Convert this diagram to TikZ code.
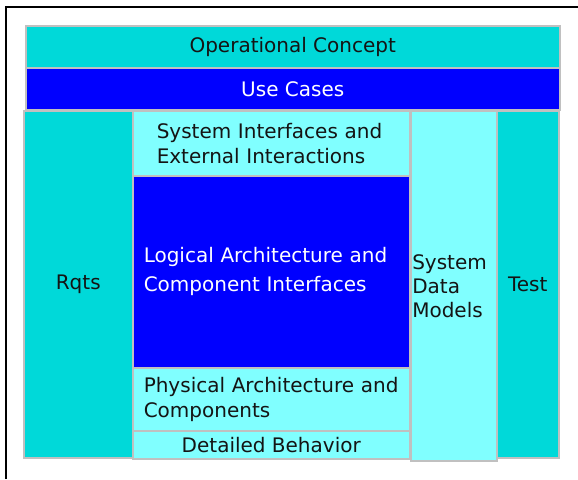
\documentclass[tikz,border=0pt]{standalone}
\usepackage{fontspec}
\setmainfont{DejaVu Sans}
\definecolor{cyanD}{RGB}{0,217,217}
\definecolor{blueD}{RGB}{0,0,255}
\definecolor{cyanL}{RGB}{128,255,255}
\definecolor{borderG}{RGB}{192,192,192}
\definecolor{textD}{RGB}{20,20,20}
\begin{document}
\begin{tikzpicture}[x=1pt,y=-1pt,
  cell/.style={draw=borderG, line width=1.5pt, anchor=north west, inner sep=0pt,
    font=\fontsize{20}{25}\selectfont, text=textD},
  dark/.style={fill=cyanD},
  bluebox/.style={fill=blueD, text=white},
  light/.style={fill=cyanL}]
\useasboundingbox (0,0) rectangle (578,479);
\draw[line width=2pt, black] (6,479) -- (6,7) -- (578,7);
\node[cell, dark, minimum width=534pt, minimum height=42pt] (oc) at (25,25) {Operational Concept};
\node[cell, bluebox, minimum width=534pt, minimum height=42pt] (uc) at (25,67) {Use Cases};
\node[cell, dark, minimum width=109pt, minimum height=347pt] (rq) at (23,110) {Rqts};
\node[cell, light, minimum height=65pt, text width=229pt, align=left, inner xsep=24pt] (si) at (132,110) {System Interfaces and\\External Interactions};
\node[cell, bluebox, minimum height=192pt, text width=255pt, align=left, inner xsep=11pt, font=\fontsize{20}{29}\selectfont] (la) at (132,175) {Logical Architecture and\\Component Interfaces};
\node[cell, light, minimum height=63pt, text width=255pt, align=left, inner xsep=11pt] (pa) at (132,367) {Physical Architecture and\\Components};
\node[cell, light, minimum width=277pt, minimum height=28pt] (db) at (132,430) {Detailed Behavior};
\node[cell, light, minimum height=350pt, text width=83pt, align=left, inner xsep=1.5pt, font=\fontsize{20}{24}\selectfont] (sdm) at (410,110) {System\\Data\\Models};
\node[cell, dark, minimum width=62pt, minimum height=347pt] (ts) at (496,110) {Test};
\end{tikzpicture}
\end{document}
